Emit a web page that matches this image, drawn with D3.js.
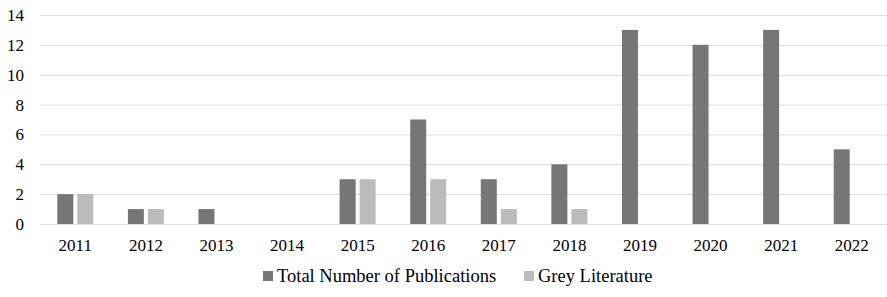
<!DOCTYPE html>
<html lang="en">
<head>
  <meta charset="utf-8">
  <title>Publications per year</title>
  <script src="https://cdn.jsdelivr.net/npm/d3@7"></script>
  <style>
    body { margin: 0; background: #fff; }
  </style>
</head>
<body>
<svg id="chart" width="887" height="297"></svg>
<script>
  var years = ["2011", "2012", "2013", "2014", "2015", "2016", "2017", "2018", "2019", "2020", "2021", "2022"];
  var totalPubs = [2, 1, 1, 0, 3, 7, 3, 4, 13, 12, 13, 5];
  var greyLit = [2, 1, 0, 0, 3, 3, 1, 1, 0, 0, 0, 0];
  var seriesNames = ["Total Number of Publications", "Grey Literature"];
  var yTicks = [0, 2, 4, 6, 8, 10, 12, 14];

  var colors = ["#767676", "#bbbbbb"];
  var serif = "'Liberation Serif', 'Times New Roman', 'DejaVu Serif', serif";

  var svg = d3.select("#chart")
    .attr("font-family", serif)
    .style("font-family", serif);
  var plotLeft = 40, plotRight = 887, plotTop = 15, plotBottom = 224;

  var x0 = d3.scaleBand().domain(years).range([plotLeft, plotRight]);
  var x1 = d3.scaleBand().domain(seriesNames).range([-18, 18]).paddingInner(0.2);
  var y = d3.scaleLinear().domain([0, 14]).range([plotBottom, plotTop]);

  // gridlines
  svg.append("g").selectAll("line")
    .data(yTicks).enter().append("line")
    .attr("x1", plotLeft).attr("x2", plotRight)
    .attr("y1", function (d) { return y(d) + 0.5; })
    .attr("y2", function (d) { return y(d) + 0.5; })
    .attr("stroke", "#dcdcdc")
    .attr("stroke-width", 1);

  // y labels
  svg.append("g").selectAll("text")
    .data(yTicks).enter().append("text")
    .attr("x", 24)
    .attr("y", function (d) { return y(d); })
    .attr("dy", "0.35em")
    .attr("text-anchor", "end")
    .style("font-size", "17px")
    .text(function (d) { return d; });

  // bars
  var rows = years.map(function (yr, i) {
    return { year: yr, values: [totalPubs[i], greyLit[i]] };
  });

  var groups = svg.append("g").selectAll("g")
    .data(rows).enter().append("g")
    .attr("transform", function (d) {
      return "translate(" + (x0(d.year) + x0.bandwidth() / 2) + ",0)";
    });

  groups.selectAll("rect")
    .data(function (d) {
      return d.values.map(function (v, k) { return { name: seriesNames[k], value: v, k: k }; })
        .filter(function (d) { return d.value > 0; });
    })
    .enter().append("rect")
    .attr("x", function (d) { return x1(d.name); })
    .attr("width", x1.bandwidth())
    .attr("y", function (d) { return y(d.value); })
    .attr("height", function (d) { return y(0) - y(d.value); })
    .attr("fill", function (d) { return colors[d.k]; });

  // x labels
  svg.append("g").selectAll("text")
    .data(years).enter().append("text")
    .attr("x", function (d) { return x0(d) + x0.bandwidth() / 2; })
    .attr("y", 251)
    .attr("text-anchor", "middle")
    .style("font-size", "17px")
    .text(function (d) { return d; });

  // legend
  var legendPos = [263, 524];
  var legend = svg.append("g").selectAll("g")
    .data(seriesNames).enter().append("g")
    .attr("transform", function (d, i) { return "translate(" + legendPos[i] + ",271)"; });
  legend.append("rect")
    .attr("width", 10).attr("height", 10)
    .attr("fill", function (d, i) { return colors[i]; });
  legend.append("text")
    .attr("x", 14).attr("y", 11)
    .style("font-size", "18.5px")
    .text(function (d) { return d; });
</script>
</body>
</html>
